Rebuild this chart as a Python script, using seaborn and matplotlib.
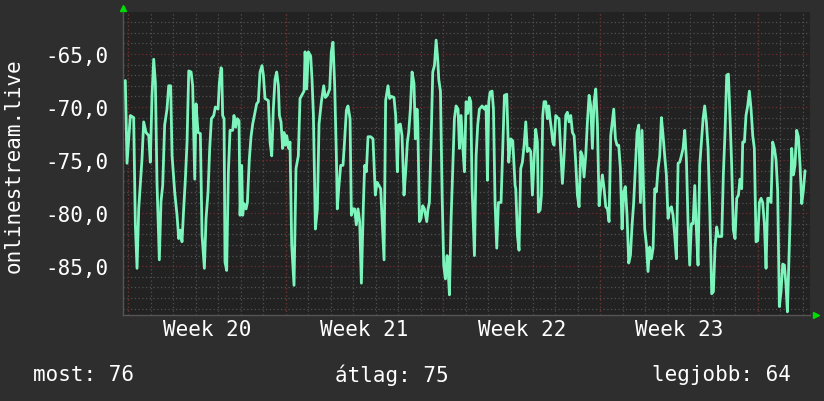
import pandas as pd
import seaborn as sns
import matplotlib.pyplot as plt
from matplotlib.ticker import MultipleLocator, FixedLocator, FuncFormatter

# time in hours from the start of Week 20, signal values
hours = [
    -3.2, -1.4, 0.4, 2.2, 5.7, 7.5, 9.3, 11.1, 14.6, 16.4, 18.9, 21.8, 23.5, 25.3, 27.1,
    28.9, 30.6, 33.1, 34.9, 36.7, 38.8, 41.3, 43.1, 45.2, 46.7, 49.5, 52.0, 53.8, 55.6, 57.3,
    59.1, 60.9, 62.7, 64.5, 67.0, 68.7, 70.9, 72.3, 74.4, 76.9, 78.7, 81.2, 83.0, 85.1, 86.9,
    88.7, 91.2, 92.9, 95.8, 97.2, 99.0,
    99.7, 100.7, 102.2, 103.2, 105.0, 106.8, 108.6, 111.4, 112.8, 114.6, 116.4, 118.2, 119.3, 121.0, 122.1,
    123.5, 125.7, 127.1, 129.2, 131.0, 132.8, 135.3, 137.0, 138.8, 140.6, 142.7, 144.2, 145.9, 149.5, 151.3,
    153.1, 154.8, 156.6, 158.4, 160.2, 161.3, 163.0, 164.8, 166.2, 167.7, 169.1, 171.2, 172.6, 174.4, 176.9,
    179.0, 181.5, 183.3, 185.8, 187.6, 188.7, 190.4, 192.2, 194.7, 196.1, 197.6, 199.7, 201.8, 203.6,
    206.1, 208.6, 210.3, 212.5, 215.0, 216.7, 218.5, 220.3, 222.1, 223.1, 224.6, 226.7, 229.2, 231.0, 232.8,
    234.5, 236.7, 238.1, 239.9, 241.6, 243.4, 245.2, 247.0, 248.8, 250.9, 252.3, 254.1, 255.9, 258.7, 261.2,
    263.7, 265.5, 267.6, 269.4, 271.2, 273.0, 274.7, 277.2, 279.0, 280.8, 283.6, 285.4, 287.2, 288.6, 290.4,
    292.2, 294.3, 296.1, 297.9, 299.3, 301.1, 302.9, 305.0, 306.4, 308.2,
    309.0, 310.8, 312.5, 314.3, 316.1, 318.6, 320.0, 321.4, 323.2, 325.0, 326.8, 328.6, 330.3, 331.4, 333.2,
    335.0, 336.7, 338.5, 340.3, 341.7, 342.8, 344.6, 346.4, 348.1, 349.9, 352.0, 353.5, 355.2, 357.0, 358.8,
    360.6, 362.4, 364.1, 365.6, 367.0, 369.5, 371.3, 373.0, 374.8, 377.7, 380.2, 381.9, 383.4, 384.8, 386.2,
    388.3, 389.8, 391.5, 393.3, 395.1, 397.9, 399.7, 401.5, 404.0, 406.1, 408.3, 410.4, 412.9,
    413.6, 415.4, 417.1, 418.9, 420.7, 422.5, 424.3, 426.0, 427.8, 429.6, 431.4, 433.2, 434.9, 436.7, 437.8,
    439.6, 441.0, 442.4, 443.8, 445.6, 447.4, 448.8, 450.2, 451.7, 453.1, 454.5, 456.3, 458.1, 459.8, 461.6,
    463.4, 465.2, 467.0, 468.7, 470.5, 472.3, 474.1, 475.9, 477.6, 479.4, 481.2, 483.0, 484.8, 486.5, 488.3,
    490.1, 491.9, 493.7, 495.4, 497.2, 499.0, 500.8, 502.6, 504.3, 506.1, 507.9, 509.7, 511.5, 513.2, 515.0,
    518.2, 520.0, 521.7, 523.5, 525.3, 527.1, 528.9, 530.6, 532.4, 534.2, 536.0, 537.8, 539.5, 541.3, 543.1,
    544.9, 546.7, 548.4, 550.2, 551.3, 553.1, 554.8, 556.6, 558.4, 560.2, 562.0, 563.7, 565.5, 567.3, 569.1,
    570.9, 572.6, 574.4, 576.2, 578.0, 579.8, 581.5, 583.3, 585.1, 586.9, 588.6, 590.4, 592.2, 594.0, 595.8,
    597.5, 599.3, 601.1, 602.9, 604.7, 606.4, 608.2, 610.0, 611.8, 613.6, 615.3, 617.1, 618.9, 620.7,
    622.8, 624.6, 626.3, 628.1, 629.9, 633.5, 635.2, 637.0, 638.8, 640.6, 642.4, 644.1, 645.9, 647.7, 649.5,
    651.3, 653.0, 654.8, 655.9, 657.7, 659.4, 661.2, 663.0, 664.8, 666.6, 668.3, 670.1, 671.9, 673.7, 675.5,
    677.2, 679.0, 680.8, 682.6, 684.4, 686.1, 687.9, 689.7, 691.5, 693.2, 695.0, 696.8, 698.6, 700.4, 702.1,
    703.6, 705.0, 706.4, 708.2, 710.0, 711.7, 713.5, 715.3, 717.1, 718.9, 720.6, 722.4,
]

signal = [
    -67.5, -75.3, -73.0, -70.8, -71.0, -81.1, -85.2, -79.6, -74.9, -71.4, -72.4, -72.7, -75.2, -68.9, -65.5,
    -67.7, -77.1, -84.4, -78.9, -77.4, -71.7, -70.2, -68.0, -68.0, -74.6, -78.0, -80.2, -82.4, -81.6, -82.7,
    -79.6, -76.8, -73.3, -66.6, -66.7, -68.0, -76.8, -69.7, -72.4, -72.5, -82.1, -85.2, -80.5, -78.0, -73.9,
    -71.1, -70.8, -70.0, -70.2, -67.7, -66.3,
    -66.4, -70.8, -71.1, -84.6, -85.4, -76.1, -72.2, -72.2, -70.8, -71.9, -71.1, -71.3, -80.2, -75.5, -80.2,
    -79.1, -79.6, -79.0, -74.9, -72.8, -71.6, -70.5, -69.7, -69.5, -66.7, -66.1, -67.0, -69.2, -69.4, -73.3,
    -74.6, -70.2, -67.4, -66.7, -68.0, -70.8, -71.4, -73.9, -72.4, -73.6, -72.7, -73.9, -73.3, -83.0, -86.8,
    -75.8, -74.6, -69.2, -68.8, -68.5, -64.8, -68.3, -64.8, -65.2, -67.4, -70.8, -81.5, -79.6, -71.6,
    -69.5, -68.0, -69.1, -68.9, -68.3, -64.8, -63.9, -68.0, -74.6, -79.6, -77.7, -75.5, -75.5, -73.0, -70.3,
    -69.9, -71.1, -80.2, -79.6, -79.6, -81.1, -79.6, -80.8, -86.6, -79.3, -75.5, -76.1, -72.8, -72.8, -73.0,
    -78.3, -77.1, -77.4, -77.7, -81.1, -84.4, -69.4, -68.0, -69.2, -69.0, -69.1, -70.8, -76.1, -71.7, -71.6,
    -72.7, -78.3, -76.1, -73.3, -72.4, -70.2, -66.7, -67.8, -73.0, -70.2,
    -71.4, -80.8, -80.5, -79.3, -79.6, -80.8, -79.6, -79.0, -73.3, -66.7, -66.1, -63.7, -65.5, -67.4, -68.5,
    -78.3, -84.9, -86.2, -84.0, -85.9, -87.7, -80.5, -75.5, -71.1, -69.9, -70.2, -73.9, -70.8, -73.6, -76.1,
    -69.5, -70.6, -69.1, -69.5, -77.7, -84.0, -74.6, -71.7, -70.2, -69.9, -70.2, -69.9, -76.9, -69.5, -68.6,
    -68.5, -70.2, -79.0, -83.3, -79.0, -79.0, -73.9, -68.9, -68.8, -75.2, -73.0, -73.2, -77.4,
    -77.7, -82.1, -83.5, -75.8, -75.2, -73.6, -71.4, -74.2, -73.9, -74.2, -78.3, -74.9, -72.1, -73.3, -79.9,
    -79.7, -78.3, -70.8, -69.5, -69.5, -71.1, -69.9, -71.1, -72.1, -73.3, -73.6, -70.8, -71.0, -71.1, -74.2,
    -77.2, -74.6, -70.8, -70.5, -71.4, -70.8, -72.4, -72.7, -75.2, -78.3, -79.4, -74.2, -74.6, -76.6, -74.6,
    -71.4, -68.9, -69.9, -73.9, -69.5, -68.3, -71.7, -79.3, -77.7, -76.4, -77.7, -79.4, -79.6, -80.8, -72.7,
    -70.2, -73.0, -73.6, -73.6, -75.8, -81.5, -78.0, -77.5, -80.2, -84.7, -84.0, -81.1, -79.0, -75.8, -72.4,
    -71.7, -79.0, -72.2, -78.3, -81.5, -83.0, -85.5, -83.2, -84.3, -83.3, -77.7, -78.0, -75.8, -74.6, -71.0,
    -72.7, -74.6, -76.4, -80.5, -79.6, -79.4, -80.2, -82.1, -84.3, -75.3, -75.2, -74.6, -73.9, -72.2, -75.0,
    -80.8, -84.9, -81.0, -81.0, -77.4, -81.5, -84.9, -75.5, -73.3, -71.1, -69.9, -71.4, -73.9, -79.6,
    -87.6, -87.4, -83.3, -81.3, -82.2, -82.2, -76.4, -72.4, -67.0, -66.9, -71.1, -75.5, -81.6, -82.4, -78.6,
    -78.3, -76.8, -77.7, -73.3, -73.3, -70.8, -69.9, -68.5, -70.2, -72.7, -73.9, -82.7, -82.6, -79.0, -78.6,
    -79.0, -81.0, -85.2, -78.6, -78.6, -79.0, -73.3, -73.9, -75.0, -77.9, -88.8, -87.4, -84.8, -84.9, -86.8,
    -89.3, -85.2, -80.8, -73.9, -76.4, -75.5, -72.2, -72.8, -75.5, -79.1, -77.9, -76.0,
]

week_labels = ["Week 20", "Week 21", "Week 22", "Week 23"]
summary = ["most: 76", "átlag: 75", "legjobb: 64"]
axis_title = "onlinestream.live"

assert len(hours) == len(signal)

sns.set_theme(style="dark")
plt.rcParams['font.family'] = ['DejaVu Sans Mono', 'DejaVu Sans']

df = pd.DataFrame({"ora": hours, "jel": signal})

bg = "#2e2e2e"
fig = plt.figure(figsize=(8.24, 4.02), dpi=100, facecolor=bg)
ax = fig.add_axes([0.1497, 0.2139, 0.8334, 0.7537])
ax.set_facecolor("#222222")
ax.set_axisbelow(True)

sns.lineplot(data=df, x="ora", y="jel", ax=ax, color="#7cf4bc", linewidth=2.0,
             estimator=None, sort=False, zorder=3)

ax.set_xlim(-5.3, 727.8)
ax.set_ylim(-89.6, -61.05)

# grid: gray every day / every 1, red every week / every 5
ax.yaxis.set_major_locator(MultipleLocator(5))
ax.yaxis.set_minor_locator(MultipleLocator(1))
ax.xaxis.set_major_locator(FixedLocator([84 + 168 * i for i in range(len(week_labels))]))
ax.xaxis.set_minor_locator(MultipleLocator(24))
ax.set_xticklabels(week_labels)
ax.yaxis.set_major_formatter(FuncFormatter(lambda v, p: f"{v:.1f}".replace(".", ",")))

ax.grid(which="minor", color="#505050", linestyle=(0, (1, 2)), linewidth=0.9)
ax.yaxis.grid(which="major", color="#6e2c2c", linestyle=(0, (1, 2)), linewidth=0.9)
ax.xaxis.grid(which="major", visible=False)
for w in range(5):
    ax.axvline(168 * w, color="#6e2c2c", linestyle=(0, (1, 2)), linewidth=0.9, zorder=1)

ax.tick_params(axis="both", which="both", length=0, labelcolor="white", labelsize=15)
ax.tick_params(axis="y", pad=11)
ax.tick_params(axis="x", pad=3)

for side in ["top", "right"]:
    ax.spines[side].set_visible(False)
for side in ["left", "bottom"]:
    ax.spines[side].set_color("#555555")
    ax.spines[side].set_linewidth(1.0)

ax.set_xlabel("")
ax.set_ylabel("")

# little green arrows at the axis ends
ax.plot([0.0], [1.012], marker="^", color="#00dd00", markersize=5,
        transform=ax.transAxes, clip_on=False)
ax.plot([1.008], [0.0], marker=">", color="#00dd00", markersize=5,
        transform=ax.transAxes, clip_on=False)

fig.text(0.016, 0.588, axis_title, rotation=90, ha="center", va="center",
         color="white", fontsize=15)

fig.text(0.040, 0.067, summary[0], ha="left", va="center", color="white", fontsize=15)
fig.text(0.476, 0.067, summary[1], ha="center", va="center", color="white", fontsize=15)
fig.text(0.960, 0.067, summary[2], ha="right", va="center", color="white", fontsize=15)

fig.savefig("out.png", dpi=100, facecolor=bg)
